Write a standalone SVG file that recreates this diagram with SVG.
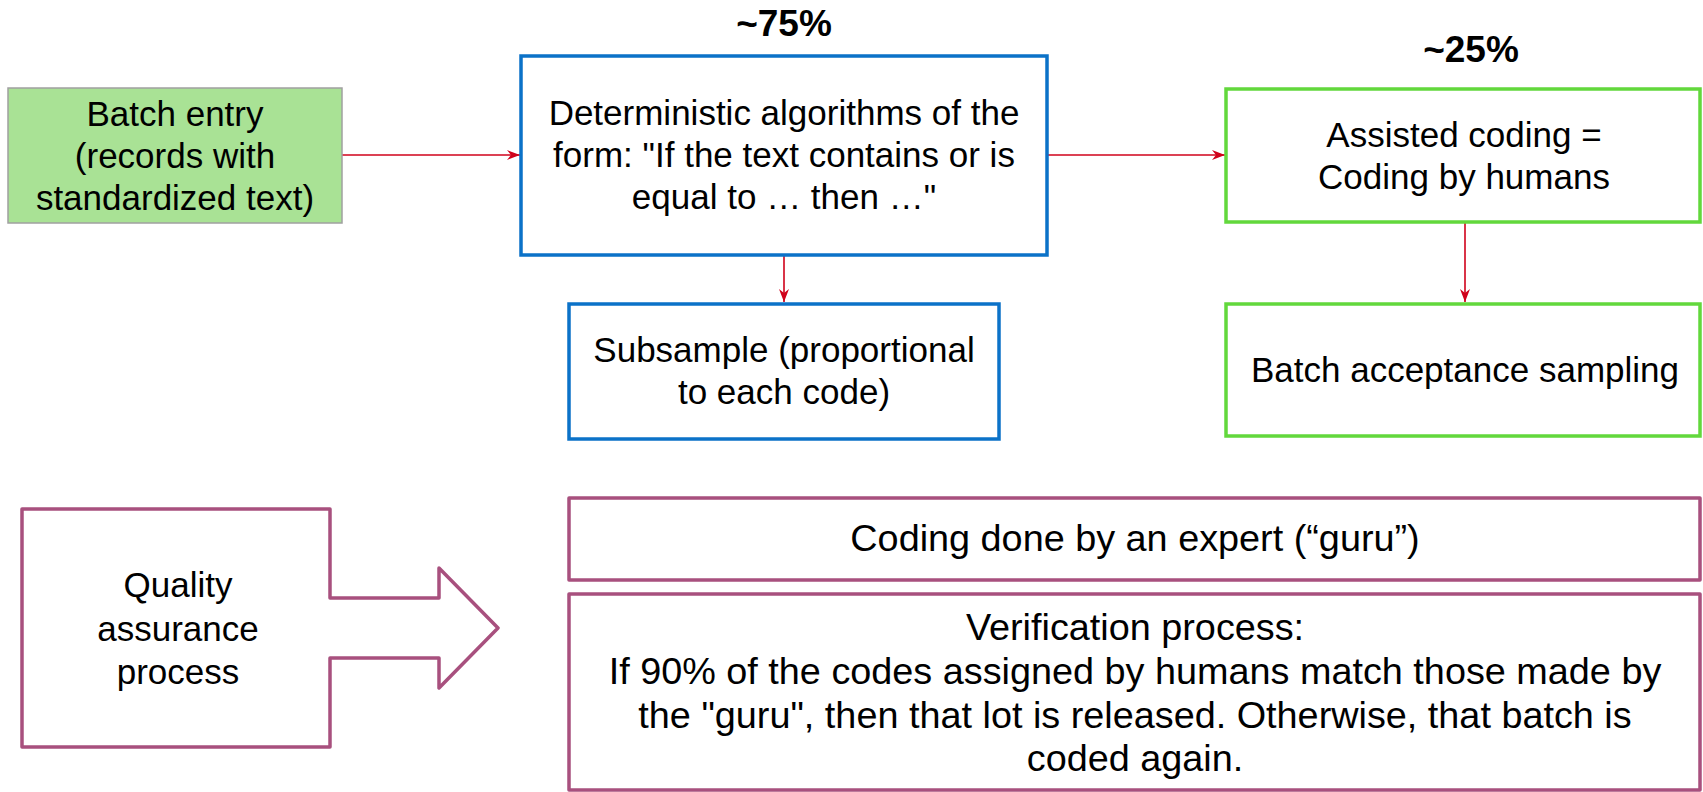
<svg xmlns="http://www.w3.org/2000/svg" width="1703" height="792" viewBox="0 0 1703 792">
<style>
text{font-family:"Liberation Sans",Arial,Helvetica,sans-serif;font-size:35px;fill:#000;text-anchor:middle}
.b{font-weight:bold;font-size:37px}
.lg{font-size:37.8px}
.blue{fill:#fff;stroke:#0b72c8;stroke-width:3.5}
.grn{fill:#fff;stroke:#62d83c;stroke-width:3.5}
.pur{fill:#fff;stroke:#a8507e;stroke-width:3.5;stroke-linejoin:round}
.conn{stroke:#d0021b;stroke-width:1.6;fill:none}
</style>
<defs>
<marker id="ah" markerUnits="userSpaceOnUse" markerWidth="14" markerHeight="10" refX="13" refY="5" orient="auto">
<path d="M0,0 L13,5 L0,10 L4,5 Z" fill="#d0021b"/>
</marker>
</defs>
<rect width="1703" height="792" fill="#fff"/>
<g id="connectors">
<line class="conn" x1="342" y1="155" x2="520" y2="155" marker-end="url(#ah)"/>
<line class="conn" x1="1047" y1="155" x2="1225" y2="155" marker-end="url(#ah)"/>
<line class="conn" x1="784" y1="256" x2="784" y2="302" marker-end="url(#ah)"/>
<line class="conn" x1="1465" y1="223" x2="1465" y2="302" marker-end="url(#ah)"/>
</g>
<g id="batch-entry">
<rect x="8" y="88" width="334" height="135" fill="#a9e295" stroke="#a0a0a0" stroke-width="1.5"/>
<text x="175" y="126">Batch entry</text>
<text x="175" y="168">(records with</text>
<text x="175" y="210">standardized text)</text>
</g>
<g id="label-75">
<text class="b" x="784" y="36">~75%</text>
</g>
<g id="deterministic">
<rect class="blue" x="521" y="56" width="526" height="199"/>
<text x="784" y="125">Deterministic algorithms of the</text>
<text x="784" y="167">form: "If the text contains or is</text>
<text x="784" y="209">equal to … then …"</text>
</g>
<g id="subsample">
<rect class="blue" x="569" y="304" width="430" height="135"/>
<text x="784" y="362">Subsample (proportional</text>
<text x="784" y="404">to each code)</text>
</g>
<g id="label-25">
<text class="b" x="1471" y="62">~25%</text>
</g>
<g id="assisted">
<rect class="grn" x="1226" y="89" width="474" height="133"/>
<text x="1464" y="147">Assisted coding =</text>
<text x="1464" y="189">Coding by humans</text>
</g>
<g id="acceptance">
<rect class="grn" x="1226" y="304" width="474" height="132"/>
<text x="1465" y="382">Batch acceptance sampling</text>
</g>
<g id="quality">
<path class="pur" d="M22,509 L330,509 L330,598 L439,598 L439,568 L498,628 L439,688 L439,658 L330,658 L330,747 L22,747 Z"/>
<text x="178" y="597">Quality</text>
<text x="178" y="641">assurance</text>
<text x="178" y="684">process</text>
</g>
<g id="guru">
<rect class="pur" x="569" y="498" width="1131" height="82"/>
<text class="lg" x="1135" y="551">Coding done by an expert (“guru”)</text>
</g>
<g id="verification">
<rect class="pur" x="569" y="594" width="1131" height="196"/>
<text class="lg" x="1135" y="640">Verification process:</text>
<text class="lg" x="1135" y="684">If 90% of the codes assigned by humans match those made by</text>
<text class="lg" x="1135" y="728">the "guru", then that lot is released. Otherwise, that batch is</text>
<text class="lg" x="1135" y="771">coded again.</text>
</g>
</svg>
